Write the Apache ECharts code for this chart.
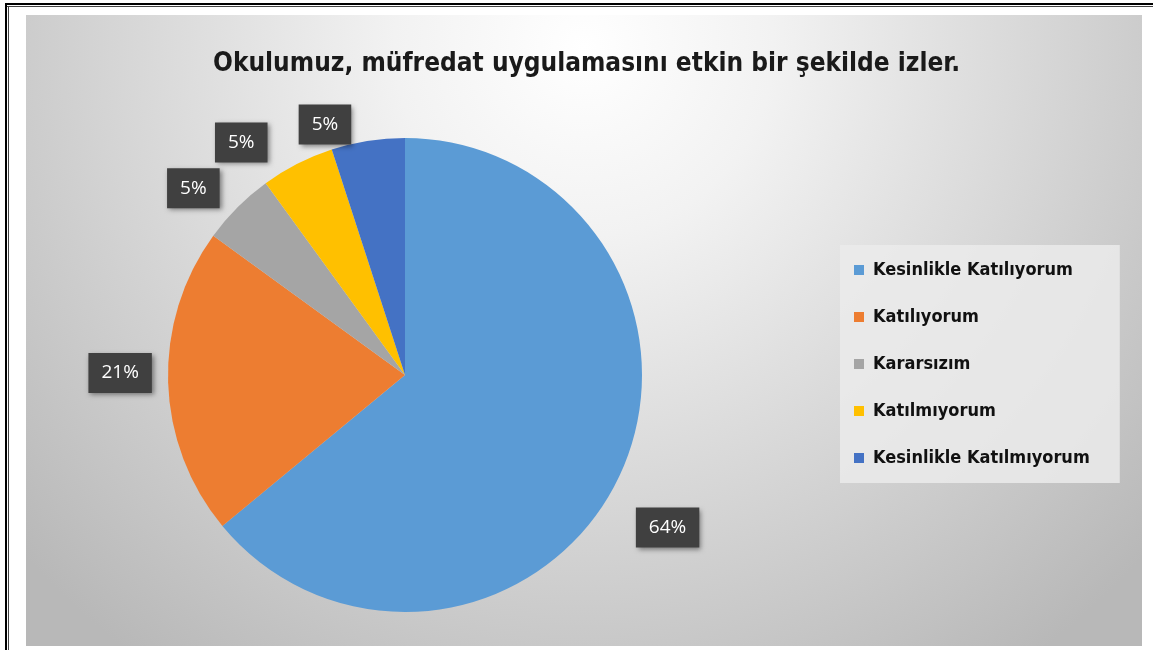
<!DOCTYPE html>
<html>
<head>
<meta charset="utf-8">
<script src="https://cdn.jsdelivr.net/npm/echarts@6/dist/echarts.min.js"></script>
<style>html,body{margin:0;padding:0;background:#fff;}#chart{width:1153px;height:650px;}</style>
</head>
<body>
<div id="chart"></div>
<script>
const titleText = 'Okulumuz, müfredat uygulamasını etkin bir şekilde izler.';
const categories = ['Kesinlikle Katılıyorum', 'Katılıyorum', 'Kararsızım', 'Katılmıyorum', 'Kesinlikle Katılmıyorum'];
const values = [64, 21, 5, 5, 5];
const colors = ['#5B9BD5', '#ED7D31', '#A5A5A5', '#FFC000', '#4472C4'];
// best-fit nudges of the data labels (layout only)
const labelNudge = [[2, 30], [3, -11], [-8, 17], [-33, 24], [-35, 34]];

const chart = echarts.init(document.getElementById('chart'), null, {renderer: 'canvas'});
const pieData = categories.map((c, i) => ({name: c, value: values[i], itemStyle: {color: colors[i]}}));
const labelData = categories.map((c, i) => ({name: c, value: values[i]}));

chart.setOption({
  animation: false,
  graphic: [
    {type: 'rect', z: -10, shape: {x: 26, y: 15, width: 1116, height: 631},
     style: {fill: {type: 'radial', x: 0.5, y: 0.05, r: 1.2, colorStops: [
       {offset: 0, color: '#ffffff'}, {offset: 0.25, color: '#f2f2f2'}, {offset: 1, color: '#b8b8b8'}]}}},
    {type: 'rect', z: -5, shape: {x: 5, y: 3, width: 1148, height: 2}, style: {fill: '#000'}},
    {type: 'rect', z: -5, shape: {x: 7, y: 6, width: 1146, height: 1}, style: {fill: '#444'}},
    {type: 'rect', z: -5, shape: {x: 5, y: 3, width: 2, height: 647}, style: {fill: '#000'}},
    {type: 'rect', z: -5, shape: {x: 8, y: 6, width: 1, height: 644}, style: {fill: '#444'}}
  ],
  title: {
    text: titleText, left: 208, top: 46,
    textStyle: {fontFamily: 'DejaVu Sans Condensed, sans-serif', fontSize: 26, fontWeight: 'bold', color: '#1a1a1a'}
  },
  legend: {
    orient: 'vertical', left: 840, top: 245,
    data: categories,
    backgroundColor: 'rgba(235,235,235,0.85)',
    padding: [15, 30, 15, 14],
    itemWidth: 10, itemHeight: 10, itemGap: 27,
    icon: 'rect',
    textStyle: {fontFamily: 'DejaVu Sans Condensed, sans-serif', fontSize: 18, fontWeight: 'bold', color: '#111', lineHeight: 20, padding: [0, 0, 0, 4]}
  },
  series: [
    {
      type: 'pie', center: [405, 375], radius: 237, startAngle: 90, clockwise: true,
      silent: true, label: {show: false}, labelLine: {show: false},
      data: pieData
    },
    {
      type: 'pie', center: [405, 375], radius: [272, 298], startAngle: 90, clockwise: true,
      silent: true, legendHoverLink: false,
      itemStyle: {color: 'rgba(0,0,0,0)'},
      labelLine: {show: false},
      label: {
        show: true, position: 'inside', formatter: '{c}%',
        color: '#fff', fontSize: 19, fontFamily: 'Open Sans, sans-serif',
        backgroundColor: '#404040', padding: [11, 13, 10, 13],
        shadowBlur: 5, shadowOffsetX: 2, shadowOffsetY: 2, shadowColor: 'rgba(0,0,0,0.45)'
      },
      labelLayout: function (p) {
        const n = labelNudge[p.dataIndex];
        return {dx: n[0], dy: n[1]};
      },
      data: labelData
    }
  ]
});
</script>
</body>
</html>
